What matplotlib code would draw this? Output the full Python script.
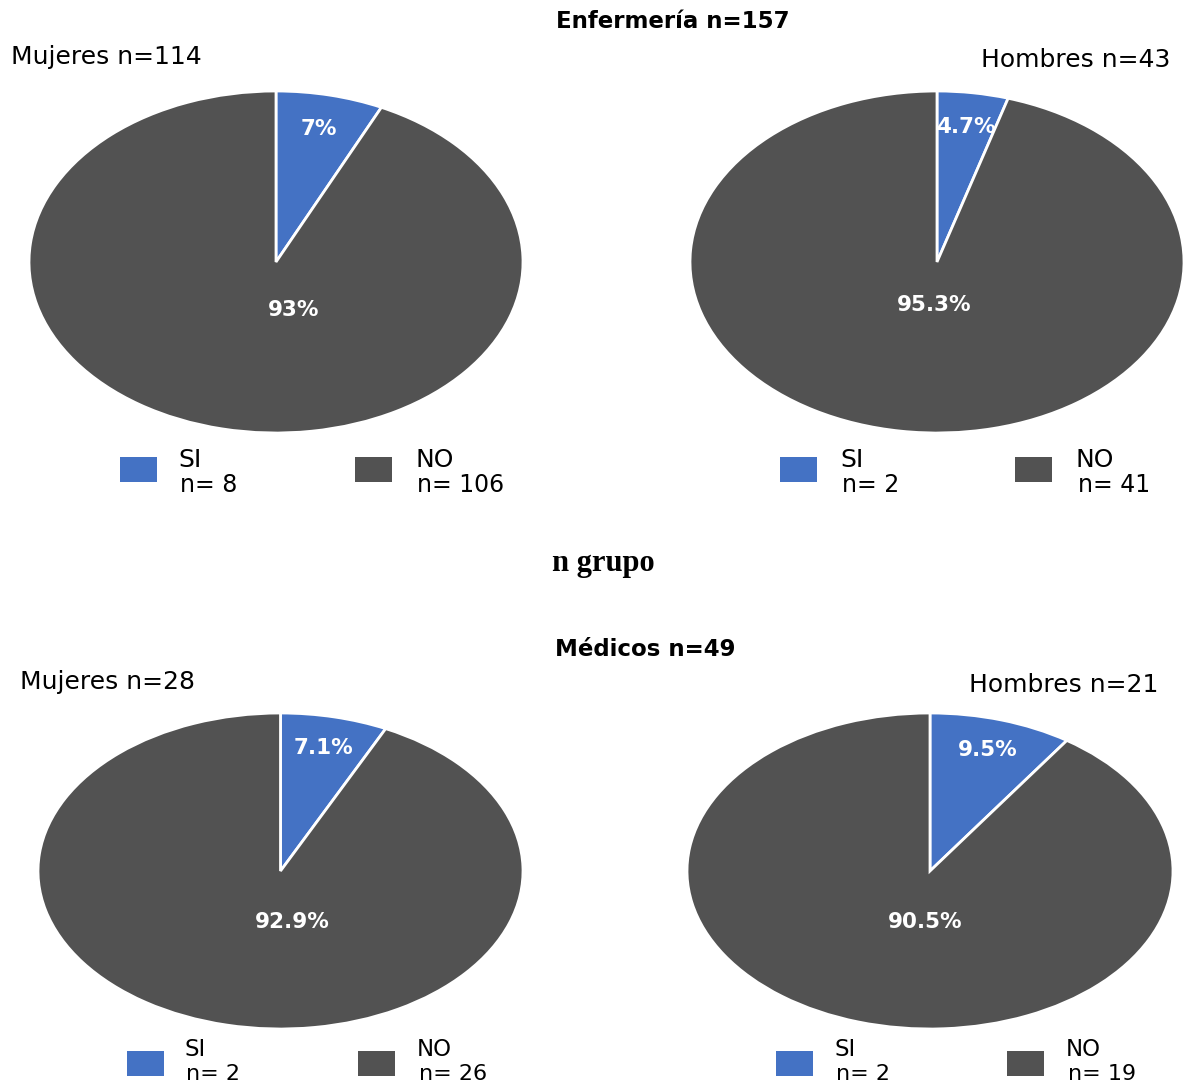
import matplotlib
matplotlib.use("Agg")
import matplotlib.pyplot as plt
from matplotlib.patches import Rectangle
import numpy as np

# Survey answers (SI / NO) per professional group and sex
groups = ["Enfermería", "Médicos"]
group_totals = [157, 49]
panel_titles = ["Mujeres n=114", "Hombres n=43", "Mujeres n=28", "Hombres n=21"]
answers = ["SI", "NO"]
si_counts = [8, 2, 2, 2]
no_counts = [106, 41, 26, 19]
pct_labels = [("7%", "93%"), ("4.7%", "95.3%"), ("7.1%", "92.9%"), ("9.5%", "90.5%")]

BLUE = "#4472C4"
GREY = "#525252"
W, H = 1184, 1087
FONT = "DejaVu Sans"

fig = plt.figure(figsize=(W / 100, H / 100), dpi=100)
fig.patch.set_facecolor("white")


def fx(px):
    return px / W


def fy(py):
    return 1 - py / H


# pie boxes in pixels: (left, top, right, bottom)
pie_boxes = [(29, 91, 523, 433), (690, 91, 1184, 433),
             (38, 713, 523, 1029), (687, 713, 1173, 1029)]
# where the large-slice label sits inside each pie (axes data units)
big_label_xy = [(0.07, -0.28), (-0.01, -0.25), (0.05, -0.32), (-0.02, -0.32)]

for i, (l, t, r, b) in enumerate(pie_boxes):
    ax = fig.add_axes([fx(l), fy(b), fx(r - l), (b - t) / H])
    vals = [si_counts[i], no_counts[i]]
    wedges, _ = ax.pie(vals, colors=[BLUE, GREY], startangle=90, counterclock=False,
                       wedgeprops=dict(edgecolor="white", linewidth=2))
    ax.set_aspect("auto")
    ax.set_xlim(-1, 1)
    ax.set_ylim(-1, 1)
    ax.axis("off")
    # small slice label along its mid-angle
    w = wedges[0]
    mid = np.deg2rad((w.theta1 + w.theta2) / 2)
    ax.text(0.8 * np.cos(mid), 0.8 * np.sin(mid), pct_labels[i][0], ha="center", va="center",
            color="white", fontsize=15.5, fontweight="bold", family=FONT)
    bx, by = big_label_xy[i]
    ax.text(bx, by, pct_labels[i][1], ha="center", va="center",
            color="white", fontsize=15.5, fontweight="bold", family=FONT)

# group headers
fig.text(fx(673), fy(22), f"{groups[0]} n={group_totals[0]}", ha="center", va="center",
         fontsize=16.5, fontweight="bold", family=FONT)
fig.text(fx(645), fy(650), f"{groups[1]} n={group_totals[1]}", ha="center", va="center",
         fontsize=16.5, fontweight="bold", family=FONT)
fig.text(fx(603), fy(564), "n grupo", ha="center", va="center",
         fontsize=22, fontweight="bold", family="Liberation Serif")

# panel titles
fig.text(fx(11), fy(57), panel_titles[0], ha="left", va="center", fontsize=18, family=FONT)
fig.text(fx(1170), fy(60), panel_titles[1], ha="right", va="center", fontsize=18, family=FONT)
fig.text(fx(20), fy(682), panel_titles[2], ha="left", va="center", fontsize=18, family=FONT)
fig.text(fx(1158), fy(685), panel_titles[3], ha="right", va="center", fontsize=18, family=FONT)

# legends: (swatch SI x, swatch NO x, swatch top y, text SI x, text NO x,
#           answer line y, count line y, answer size, count size)
legend_pos = [(120, 355, 457, 178, 415, 460, 485, 18, 17),
              (780, 1015, 457, 840, 1076, 460, 485, 18, 17),
              (127, 358, 1051, 184, 417, 1049, 1074, 16.5, 16),
              (776, 1007, 1051, 834, 1066, 1049, 1074, 16.5, 16)]
sw_w, sw_h = 37, 25
for i, (xs, xn, yt, txs, txn, ya, yc, fa, fc) in enumerate(legend_pos):
    counts = [si_counts[i], no_counts[i]]
    for j, (sx, tx, col) in enumerate([(xs, txs, BLUE), (xn, txn, GREY)]):
        fig.add_artist(Rectangle((fx(sx), fy(yt + sw_h)), sw_w / W, sw_h / H,
                                 transform=fig.transFigure, facecolor=col, edgecolor="none"))
        fig.text(fx(tx), fy(ya), answers[j], ha="left", va="center", fontsize=fa, family=FONT)
        fig.text(fx(tx + 2), fy(yc), f"n= {counts[j]}", ha="left", va="center",
                 fontsize=fc, family=FONT)

fig.savefig("out.png", dpi=100, facecolor="white")
